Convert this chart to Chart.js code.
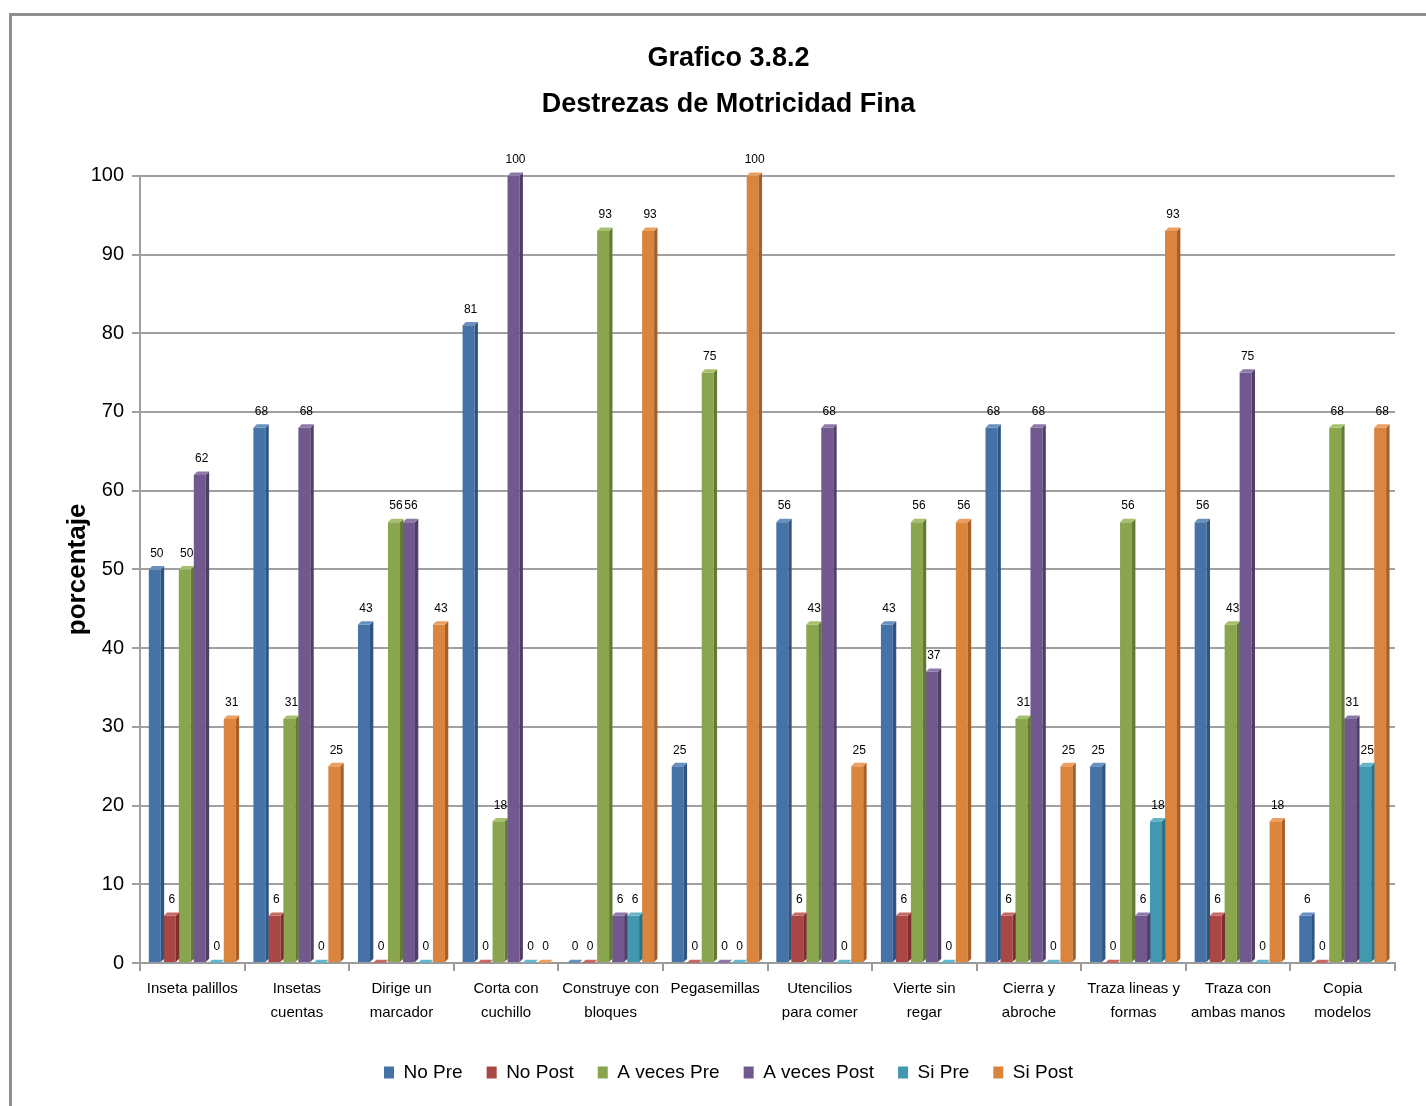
<!DOCTYPE html>
<html>
<head>
<meta charset="utf-8">
<script src="https://cdn.jsdelivr.net/npm/chart.js@4/dist/chart.umd.min.js"></script>
<style>
  html, body { margin: 0; padding: 0; background: #ffffff; }
  #wrap { position: relative; width: 1426px; height: 1106px; overflow: hidden; }
  #frame { position: absolute; left: 9px; top: 13px; width: 1430px; height: 1110px;
           border-top: 3px solid #8e8e8e; border-left: 3px solid #8e8e8e; box-sizing: border-box; }
  canvas { position: absolute; left: 0; top: 0; }
</style>
</head>
<body>
<div id="wrap">
  <div id="frame"></div>
  <canvas id="c" width="1426" height="1106"></canvas>
</div>
<script>
const categories = [
  ['Inseta palillos'],
  ['Insetas', 'cuentas'],
  ['Dirige un', 'marcador'],
  ['Corta con', 'cuchillo'],
  ['Construye con', 'bloques'],
  ['Pegasemillas'],
  ['Utencilios', 'para comer'],
  ['Vierte sin', 'regar'],
  ['Cierra y', 'abroche'],
  ['Traza lineas y', 'formas'],
  ['Traza con', 'ambas manos'],
  ['Copia', 'modelos']
];
const seriesNames = ['No Pre', 'No Post', 'A veces Pre', 'A veces Post', 'Si Pre', 'Si Post'];
const noPre      = [50, 68, 43, 81, 0, 25, 56, 43, 68, 25, 56, 6];
const noPost     = [6, 6, 0, 0, 0, 0, 6, 6, 6, 0, 6, 0];
const aVecesPre  = [50, 31, 56, 18, 93, 75, 43, 56, 31, 56, 43, 68];
const aVecesPost = [62, 68, 56, 100, 6, 0, 68, 37, 68, 6, 75, 31];
const siPre      = [0, 0, 0, 0, 6, 0, 0, 0, 0, 18, 0, 25];
const siPost     = [31, 25, 43, 0, 93, 100, 25, 56, 25, 93, 18, 68];
const yTicks = [0, 10, 20, 30, 40, 50, 60, 70, 80, 90, 100];

const colors = ['#4572A7', '#AA4643', '#89A54E', '#71588F', '#4198AF', '#DB843D'];
const sideColors = ['#2f5480', '#7e2f2d', '#627a36', '#513e68', '#2c7185', '#a85f25'];
const topColors = ['#6a90c0', '#c46a67', '#a6c070', '#8e78aa', '#66b5ca', '#ec9f60'];
const values = [noPre, noPost, aVecesPre, aVecesPost, siPre, siPost];

const sans = "'Liberation Sans', Arial, sans-serif";

const threeD = {
  id: 'threeD',
  afterDatasetsDraw(chart) {
    const ctx = chart.ctx;
    chart.data.datasets.forEach((ds, di) => {
      const meta = chart.getDatasetMeta(di);
      meta.data.forEach((bar) => {
        const w = bar.width;
        const d = Math.max(3, w * 0.28);
        const l = bar.x - w / 2, r = bar.x + w / 2;
        const top = bar.y, base = bar.base;
        ctx.save();
        ctx.fillStyle = sideColors[di];
        ctx.beginPath();
        ctx.moveTo(r, top); ctx.lineTo(r + d, top - d); ctx.lineTo(r + d, base - d); ctx.lineTo(r, base);
        ctx.closePath(); ctx.fill();
        ctx.fillStyle = topColors[di];
        ctx.beginPath();
        ctx.moveTo(l, top); ctx.lineTo(l + d, top - d); ctx.lineTo(r + d, top - d); ctx.lineTo(r, top);
        ctx.closePath(); ctx.fill();
        ctx.restore();
      });
    });
    ctx.save();
    ctx.font = "12px " + sans;
    ctx.fillStyle = '#000';
    ctx.textAlign = 'center';
    ctx.textBaseline = 'bottom';
    chart.data.datasets.forEach((ds, di) => {
      const meta = chart.getDatasetMeta(di);
      meta.data.forEach((bar, i) => {
        ctx.fillText(String(ds.data[i]), bar.x + 2, bar.y - 10);
      });
    });
    ctx.restore();
  }
};

new Chart(document.getElementById('c'), {
  type: 'bar',
  data: {
    labels: categories,
    datasets: seriesNames.map((n, i) => ({
      label: n,
      data: values[i],
      backgroundColor: colors[i],
      borderWidth: 0,
      categoryPercentage: 0.86,
      barPercentage: 0.8
    }))
  },
  options: {
    responsive: false,
    animation: false,
    devicePixelRatio: 1,
    layout: { padding: { left: 62, right: 31, top: 10, bottom: 14 } },
    plugins: {
      title: {
        display: true,
        text: ['Grafico 3.8.2', 'Destrezas de Motricidad Fina'],
        color: '#000',
        font: { family: sans, size: 27, weight: 'bold', lineHeight: 1.7 },
        padding: { top: 26, bottom: 48 }
      },
      legend: {
        position: 'bottom',
        labels: {
          color: '#000',
          font: { family: sans, size: 19 },
          boxWidth: 10, boxHeight: 12,
          padding: 24
        }
      },
      tooltip: { enabled: false }
    },
    scales: {
      x: {
        grid: { display: true, drawOnChartArea: false, offset: true, color: '#9a9a9a', lineWidth: 2, tickLength: 8 },
        border: { display: true, color: '#9a9a9a', width: 2 },
        ticks: {
          color: '#000', maxRotation: 0, autoSkip: false,
          font: { family: sans, size: 15, lineHeight: 1.6 }, padding: 6
        },
        afterFit(s) { s.height = 76; }
      },
      y: {
        min: 0, max: 100,
        afterBuildTicks(s) { s.ticks = yTicks.map(v => ({ value: v })); },
        grid: { color: '#a0a0a0', lineWidth: 2, tickLength: 8 },
        border: { display: true, color: '#a0a0a0', width: 2 },
        ticks: {
          color: '#000',
          font: { family: sans, size: 20 },
          padding: 8
        },
        title: {
          display: true, text: 'porcentaje', color: '#000',
          font: { family: sans, size: 26, weight: 'bold' },
          padding: 0
        },
        afterFit(s) { s.width = 78; }
      }
    }
  },
  plugins: [threeD]
});
</script>
</body>
</html>
